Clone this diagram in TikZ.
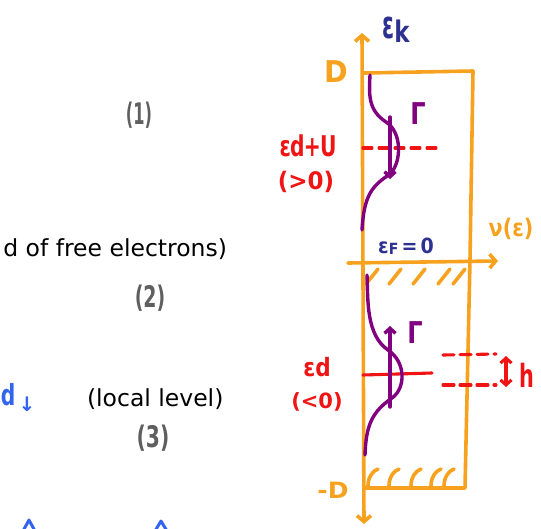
\documentclass[tikz,border=0pt]{standalone}
\usepackage{fontspec}
\setmainfont{DejaVu Sans}
\usetikzlibrary{arrows.meta}
\definecolor{orng}{RGB}{247,162,30}
\definecolor{purp}{RGB}{128,0,128}
\definecolor{redc}{RGB}{240,20,20}
\definecolor{navyc}{RGB}{45,50,145}
\definecolor{bluec}{RGB}{50,100,240}
\definecolor{grayc}{RGB}{95,95,95}
\newcommand{\fs}[1]{\fontsize{#1}{#1}\selectfont}
\tikzset{
  ora/.style={draw=orng,line width=3.6pt,line cap=round,line join=round},
  pur/.style={draw=purp,line width=3.4pt,line cap=round,line join=round},
  redl/.style={draw=redc,line width=3.1pt,line cap=round},
  bigtip/.style={arrows={-Straight Barb[length=6pt,width=14pt]}},
  bigtips/.style={arrows={Straight Barb[length=6pt,width=14pt]-Straight Barb[length=6pt,width=14pt]}},
  smalltip/.style={arrows={-Straight Barb[length=5pt,width=11pt]}},
  redtips/.style={arrows={Straight Barb[length=5pt,width=11pt]-Straight Barb[length=5pt,width=11pt]}},
  lbl/.style={inner sep=0pt,outer sep=0pt},
  grayn/.style={lbl,text=grayc,font=\bfseries\fs{27}},
  blackt/.style={lbl,text=black,font=\fs{23.5}},
  redt/.style={lbl,text=redc,font=\bfseries},
  orat/.style={lbl,text=orng,font=\bfseries},
  navyt/.style={lbl,text=navyc,font=\bfseries},
  purt/.style={lbl,text=purp,font=\bfseries},
}
\begin{document}
\begin{tikzpicture}[x=1pt,y=-1pt]
\useasboundingbox (0,0) rectangle (541,528);

% ---- left column texts ----
\node[grayn] (n1) at (139,115) {\scalebox{0.6}[1.1]{(1)}};
\node[grayn] (n2) at (150,298) {\scalebox{0.7}[1.1]{(2)}};
\node[grayn] (n3) at (153,438) {\scalebox{0.75}[1.1]{(3)}};
\node[blackt,anchor=base east] (free) at (227,256) {d of free electrons)};
\node[blackt,anchor=base west] (local) at (87,406) {(local level)};
\node[lbl,text=bluec,font=\bfseries\fs{29},anchor=base west] (dd) at (1,405)
  {\scalebox{0.7}[1]{d}\hspace{3pt}\raisebox{-6pt}{\fs{20}↓}};
\draw[draw=bluec,line width=3pt,line cap=round,line join=round] (23,531) -- (29,520) -- (35,531);
\draw[draw=bluec,line width=3pt,line cap=round,line join=round] (155,531) -- (161,521) -- (167,531);

% ---- axes and band box ----
\coordinate (vb) at (364,524);
\coordinate (vt) at (362,33);
\draw[ora,bigtips] (vb) -- (vt);
\coordinate (hl) at (348,263);
\coordinate (hr) at (498,261);
\draw[ora,bigtip] (hl) -- (hr);
\coordinate (bTL) at (364,73);
\coordinate (bTR) at (473,71);
\coordinate (bBR) at (465,488);
\coordinate (bBL) at (364,488);
\draw[ora] (bTL) -- (bTR) -- (470,260) -- (bBR) -- (bBL);

% hatching under the Fermi level
\foreach \x in {366,389,413,438,453}
  \draw[ora] (\x,284) -- (\x+12,269);
% hatching at the band bottom
\foreach \x in {368,389,411,431,444}
  \draw[ora] (\x,486) .. controls (\x,478) and (\x+4,471) .. (\x+10,469);

% ---- labels on axes ----
\node[navyt] (ek) at (396,30) {\fs{24}\scalebox{0.9}[1.6]{ε}\raisebox{-4pt}{\fs{27}\scalebox{0.85}[1.1]{k}}};
\node[orat] (Dp) at (336,72) {\fs{30}\scalebox{0.95}[1]{D}};
\node[orat] (Dm) at (333,490) {\fs{25}\scalebox{1}[0.9]{-D}};
\node[orat] (nu) at (511,229) {\fs{23}\scalebox{0.9}[1.05]{ν(ε)}};
\node[navyt] (ef) at (406,246) {\fs{19}\scalebox{1}[1.1]{ε\raisebox{-1pt}{\fs{14}F}\,=\,0}};

% ---- upper level eps_d + U ----
\coordinate (uL) at (363,148);
\coordinate (uR) at (437,148);
\draw[redl,dash pattern=on 9pt off 7pt] (uL) -- (uR);
\node[redt] (edu) at (308,146) {\fs{26}\scalebox{0.78}[1.1]{ε\hspace{-1pt}d\hspace{-1pt}+\hspace{-1pt}U}};
\node[redt] (gtz) at (306,182) {\fs{23}\scalebox{1}[1.05]{(>0)}};
\draw[pur] (370,75) .. controls (369,95) and (368,110) .. (386,122)
  .. controls (402,132) and (402,162) .. (390,174)
  .. controls (372,186) and (364,195) .. (362,230);
\coordinate (ua1) at (390,117);
\coordinate (ua2) at (390,179);
\draw[pur,smalltip] (ua1) -- (ua2);
\node[purt] (g1) at (418,114) {\fs{30}\scalebox{0.8}[1]{Γ}};

% ---- lower level eps_d ----
\coordinate (dL) at (363,375);
\coordinate (dR) at (432,373);
\draw[redl] (dL) -- (dR);
\node[redt] (ed) at (317,367) {\fs{24}\scalebox{0.9}[1.05]{εd}};
\node[redt] (ltz) at (317,402) {\fs{21}(<0)};
\draw[pur] (367,275) .. controls (368,300) and (366,335) .. (388,350)
  .. controls (406,362) and (406,388) .. (392,398)
  .. controls (372,412) and (366,425) .. (365,455);
\coordinate (la1) at (390,407);
\coordinate (la2) at (390,326);
\draw[pur,smalltip] (la1) -- (la2);
\node[purt] (g2) at (415,333) {\fs{30}\scalebox{0.8}[1]{Γ}};

% ---- width marker ----
\coordinate (w1L) at (443,355);
\coordinate (w1R) at (496,354);
\coordinate (w2L) at (443,385);
\coordinate (w2R) at (496,385);
\draw[redl,dash pattern=on 11pt off 6pt] (w1L) -- (w1R);
\draw[redl,dash pattern=on 11pt off 6pt] (w2L) -- (w2R);
\coordinate (wa) at (506,356);
\coordinate (wb) at (506,387);
\draw[redl,redtips] (wa) -- (wb);
\node[redt] (hh) at (527,375) {\fs{32}\scalebox{0.65}[1]{h}};
\end{tikzpicture}
\end{document}
